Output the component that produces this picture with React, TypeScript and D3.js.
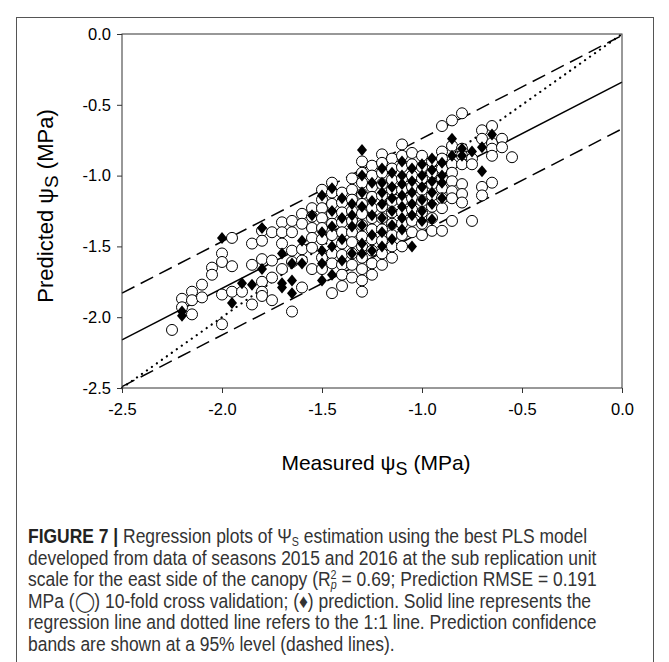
import React from 'react';
import * as d3 from 'd3';

const xTicks = [-2.5, -2.0, -1.5, -1.0, -0.5, 0.0];
const yTicks = [0.0, -0.5, -1.0, -1.5, -2.0, -2.5];

// open circles: 10-fold cross validation, grouped by measured value
const cvColumns: [number, number[]][] = [
  [-2.25, [-2.09]],
  [-2.2, [-1.87, -1.93]],
  [-2.15, [-1.82, -1.88, -1.98]],
  [-2.1, [-1.77, -1.86]],
  [-2.05, [-1.65, -1.70]],
  [-2.0, [-1.55, -1.61, -1.84, -2.05]],
  [-1.95, [-1.44, -1.64, -1.82]],
  [-1.9, [-1.82]],
  [-1.85, [-1.48, -1.63, -1.91]],
  [-1.8, [-1.39, -1.46, -1.59, -1.75, -1.82, -1.85]],
  [-1.75, [-1.40, -1.60, -1.72, -1.88]],
  [-1.7, [-1.33, -1.40, -1.48, -1.66]],
  [-1.65, [-1.32, -1.40, -1.53, -1.61, -1.96]],
  [-1.6, [-1.27, -1.34, -1.52, -1.60, -1.79]],
  [-1.55, [-1.23, -1.29, -1.37, -1.44, -1.51, -1.66]],
  [-1.5, [-1.10, -1.17, -1.23, -1.30, -1.37, -1.45, -1.58, -1.66]],
  [-1.45, [-1.05, -1.12, -1.20, -1.27, -1.34, -1.42, -1.55, -1.62, -1.83]],
  [-1.4, [-1.12, -1.19, -1.26, -1.33, -1.40, -1.48, -1.56, -1.63, -1.70, -1.78]],
  [-1.35, [-1.02, -1.10, -1.17, -1.25, -1.32, -1.40, -1.47, -1.55, -1.63, -1.72]],
  [-1.3, [-0.90, -0.98, -1.05, -1.13, -1.20, -1.27, -1.35, -1.43, -1.50, -1.58, -1.66, -1.74, -1.82]],
  [-1.25, [-0.93, -1.00, -1.08, -1.15, -1.23, -1.30, -1.38, -1.45, -1.53, -1.62, -1.70]],
  [-1.2, [-0.85, -0.91, -0.98, -1.06, -1.14, -1.22, -1.30, -1.38, -1.46, -1.55, -1.63]],
  [-1.15, [-0.88, -0.95, -1.03, -1.10, -1.18, -1.26, -1.34, -1.42, -1.50, -1.58]],
  [-1.1, [-0.78, -0.86, -0.94, -1.02, -1.10, -1.18, -1.26, -1.34, -1.42, -1.50]],
  [-1.05, [-0.84, -0.92, -1.00, -1.08, -1.16, -1.24, -1.32, -1.40]],
  [-1.0, [-0.86, -0.94, -1.02, -1.10, -1.18, -1.26, -1.34, -1.42]],
  [-0.95, [-0.90, -0.98, -1.06, -1.14, -1.22, -1.30, -1.39]],
  [-0.9, [-0.65, -0.83, -0.88, -0.95, -1.02, -1.09, -1.16, -1.23, -1.39]],
  [-0.85, [-0.61, -0.79, -0.92, -0.98, -1.04, -1.11, -1.16, -1.32]],
  [-0.8, [-0.56, -0.81, -0.86, -0.92, -1.06, -1.13, -1.19]],
  [-0.75, [-0.88, -0.92, -1.32]],
  [-0.7, [-0.68, -0.74, -1.08, -1.14]],
  [-0.65, [-0.65, -0.77, -0.81, -0.86, -1.05]],
  [-0.6, [-0.74, -0.80]],
  [-0.55, [-0.87]],
];

// filled diamonds: prediction set
const predColumns: [number, number[]][] = [
  [-2.2, [-1.96, -1.99]],
  [-2.0, [-1.44]],
  [-1.95, [-1.90]],
  [-1.9, [-1.76]],
  [-1.85, [-1.77]],
  [-1.8, [-1.37, -1.66]],
  [-1.7, [-1.55, -1.76, -1.79]],
  [-1.65, [-1.62, -1.74, -1.83]],
  [-1.6, [-1.46, -1.62]],
  [-1.55, [-1.28]],
  [-1.5, [-1.14, -1.40, -1.53, -1.62, -1.74]],
  [-1.45, [-1.09, -1.25, -1.36, -1.50, -1.70]],
  [-1.4, [-1.16, -1.30, -1.45, -1.60]],
  [-1.35, [-1.20, -1.28, -1.36, -1.55]],
  [-1.3, [-0.82, -1.00, -1.12, -1.22, -1.35, -1.48, -1.55]],
  [-1.25, [-1.05, -1.18, -1.28, -1.42, -1.53]],
  [-1.2, [-0.95, -1.05, -1.12, -1.20, -1.30, -1.40, -1.50]],
  [-1.15, [-0.98, -1.08, -1.16, -1.25, -1.35, -1.45]],
  [-1.1, [-0.90, -1.00, -1.06, -1.14, -1.22, -1.30, -1.38]],
  [-1.05, [-0.95, -1.04, -1.12, -1.20, -1.28, -1.50]],
  [-1.0, [-0.92, -1.00, -1.08, -1.17, -1.25, -1.32]],
  [-0.95, [-0.88, -0.96, -1.04, -1.12, -1.20, -1.31]],
  [-0.9, [-0.91, -1.00, -1.05, -1.16]],
  [-0.85, [-0.74, -0.86]],
  [-0.8, [-0.81, -0.86]],
  [-0.75, [-0.83]],
  [-0.7, [-0.80, -0.97]],
  [-0.65, [-0.71]],
];

// end points of the fitted lines
const regressionLine: [number, number][] = [[-2.5, -2.16], [0, -0.34]];
const upperBand: [number, number][] = [[-2.5, -1.83], [0, -0.01]];
const lowerBand: [number, number][] = [[-2.5, -2.49], [0, -0.67]];
const identityLine: [number, number][] = [[-2.5, -2.5], [0, 0]];

const axisFont = "'Liberation Sans', Arial, sans-serif";
const captionFont = "'Liberation Sans', Arial, sans-serif";

const flatten = (cols: [number, number[]][]) =>
  cols.flatMap(([m, preds]) => preds.map(p => [m, p] as [number, number]));

class RegressionPlot extends React.Component {
  svgRef = React.createRef<SVGSVGElement>();

  componentDidMount() {
    this.draw();
  }

  draw() {
    const svg = d3.select(this.svgRef.current);
    svg.select('g.chart').remove();
    const g = svg.append('g').attr('class', 'chart');

    const x = d3.scaleLinear().domain([-2.5, 0]).range([122, 622]);
    const y = d3.scaleLinear().domain([-2.5, 0]).range([388, 34]);

    const line = d3.line<[number, number]>().x(d => x(d[0])).y(d => y(d[1]));

    // lines sit underneath the symbols
    g.append('path').attr('d', line(identityLine)).attr('fill', 'none')
      .attr('stroke', '#000').attr('stroke-width', 2.2).attr('stroke-linecap', 'round')
      .attr('stroke-dasharray', '0.1,6');
    [upperBand, lowerBand].forEach(band => {
      g.append('path').attr('d', line(band)).attr('fill', 'none')
        .attr('stroke', '#000').attr('stroke-width', 1.5).attr('stroke-dasharray', '14,7');
    });
    g.append('path').attr('d', line(regressionLine)).attr('fill', 'none')
      .attr('stroke', '#000').attr('stroke-width', 1.5);

    // cross validation circles
    g.append('g').selectAll('circle')
      .data(flatten(cvColumns))
      .join('circle')
      .attr('cx', d => x(d[0]))
      .attr('cy', d => y(d[1]))
      .attr('r', 5.5)
      .attr('fill', '#fff')
      .attr('stroke', '#000')
      .attr('stroke-width', 1);

    // prediction diamonds, drawn over the circles
    const dw = 5, dh = 6;
    g.append('g').selectAll('path')
      .data(flatten(predColumns))
      .join('path')
      .attr('d', `M0,${-dh}L${dw},0L0,${dh}L${-dw},0Z`)
      .attr('transform', d => `translate(${x(d[0])},${y(d[1])})`)
      .attr('fill', '#000');

    // plot box
    g.append('rect')
      .attr('x', x(-2.5)).attr('y', y(0))
      .attr('width', x(0) - x(-2.5)).attr('height', y(-2.5) - y(0))
      .attr('fill', 'none').attr('stroke', '#333').attr('stroke-width', 1);

    const fmt = (d: d3.NumberValue) => (+d).toFixed(1);

    const xAxis = g.append('g').attr('transform', `translate(0,${y(-2.5)})`)
      .call(d3.axisBottom(x).tickValues(xTicks).tickSize(5).tickSizeOuter(0).tickPadding(10).tickFormat(fmt));
    const yAxis = g.append('g').attr('transform', `translate(${x(-2.5)},0)`)
      .call(d3.axisLeft(y).tickValues(yTicks).tickSize(5).tickSizeOuter(0).tickPadding(6).tickFormat(fmt));

    [xAxis, yAxis].forEach(ax => {
      ax.select('.domain').remove();
      ax.selectAll('line').attr('stroke', '#333');
      ax.selectAll('text').attr('font-family', axisFont).attr('font-size', 16.5).attr('fill', '#000');
    });
  }

  render() {
    const lineY = (i: number) => 543 + i * 21.6;
    return (
      <svg ref={this.svgRef} width={669} height={662}
        style={{ position: 'absolute', left: 0, top: 0, background: '#fff' }}>
        <rect x={16.5} y={17.5} width={637} height={700} fill="none" stroke="#555" strokeWidth={1} />
        <text x={376} y={470} textAnchor="middle" fontFamily={axisFont} fontSize={21}>
          Measured ψ<tspan dy={5} fontSize={18}>S</tspan><tspan dy={-5}> (MPa)</tspan>
        </text>
        <text transform="translate(53,206) rotate(-90)" textAnchor="middle" fontFamily={axisFont} fontSize={22}>
          Predicted ψ<tspan dy={5} fontSize={19}>S</tspan><tspan dy={-5}> (MPa)</tspan>
        </text>
        {/* caption set in a horizontally condensed sans */}
        <g transform="translate(28,0) scale(0.895,1)" fontFamily={captionFont} fontSize={19.5} fill="#333">
          <text x={0} y={lineY(0)}>
            <tspan fontWeight="bold" fill="#222">FIGURE 7 |</tspan> Regression plots of Ψ<tspan dy={3} fontSize={12}>S</tspan><tspan dy={-3}> estimation using the best PLS model</tspan>
          </text>
          <text x={0} y={lineY(1)}>developed from data of seasons 2015 and 2016 at the sub replication unit</text>
          <text x={0} y={lineY(2)}>
            scale for the east side of the canopy (R<tspan dy={-7} fontSize={12}>2</tspan><tspan dx={-6.5} dy={10} fontSize={12} fontStyle="italic">p</tspan><tspan dy={-3}> = 0.69; Prediction RMSE = 0.191</tspan>
          </text>
          <text x={0} y={lineY(3)}>MPa (◯) 10-fold cross validation; (♦) prediction. Solid line represents the</text>
          <text x={0} y={lineY(4)}>regression line and dotted line refers to the 1:1 line. Prediction confidence</text>
          <text x={0} y={lineY(5)}>bands are shown at a 95% level (dashed lines).</text>
        </g>
      </svg>
    );
  }
}

export default function App() {
  return <RegressionPlot />;
}
